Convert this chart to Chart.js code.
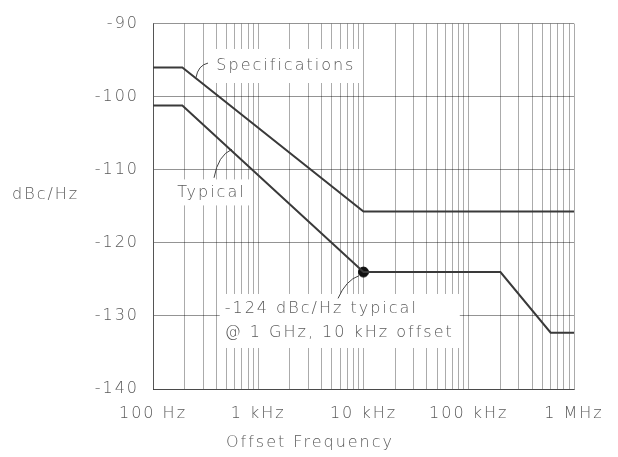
<!DOCTYPE html>
<html>
<head>
<meta charset="utf-8">
<script src="https://cdn.jsdelivr.net/npm/chart.js@4.4.1/dist/chart.umd.min.js"></script>
<style>
  body { margin: 0; background: #fff; }
</style>
</head>
<body>
<canvas id="noiseChart" width="618" height="457"></canvas>
<script>
// offset frequency (Hz) and SSB phase noise (dBc/Hz)
const specFreq = [100, 190, 10000, 1000000];
const specLevel = [-96, -96, -115.7, -115.7];

const typFreq = [100, 190, 10000, 200000, 600000, 1000000];
const typLevel = [-101.2, -101.2, -124, -124, -132.3, -132.3];

// the highlighted point
const markFreq = [10000];
const markLevel = [-124];

// log grid lines (1..9 of every decade) and the decade labels
const gridFreqs = [
  100, 200, 300, 400, 500, 600, 700, 800, 900,
  1000, 2000, 3000, 4000, 5000, 6000, 7000, 8000, 9000,
  10000, 20000, 30000, 40000, 50000, 60000, 70000, 80000, 90000,
  100000, 200000, 300000, 400000, 500000, 600000, 700000, 800000, 900000,
  1000000
];
const decadeLabels = { 100: '100 Hz', 1000: '1 kHz', 10000: '10 kHz', 100000: '100 kHz', 1000000: '1 MHz' };
const yTicks = [-140, -130, -120, -110, -100, -90];

const FONT = '"DejaVu Sans", sans-serif';
const INK = '#5a5a5a';

//text notes inside the plot, anchored in data units
const notes = [
  { lines: ['Specifications'], f: 400, v: -95.8, box: [10, 6, 17] },
  { lines: ['Typical'], f: 170, v: -113.1, box: [5, 4, 13] },
  { lines: ['-124 dBc/Hz typical', '@ 1 GHz, 10 kHz offset'], f: 480, v: -129.05, box: [5, 6, 15] }
];
// leader curves: start, control, end as [freq, dB]
const leaders = [
  [[333, -95.4], [268, -95.7], [256, -97.4]],
  [[380, -111.1], [415, -108], [563, -107.2]],
  [[5730, -127.6], [6820, -125.1], [9060, -124.5]]
];

const notesPlugin = {
  id: 'notes',
  beforeDraw(chart) {
    chart.ctx.letterSpacing = '2px';
  },
  beforeDatasetsDraw(chart) {
    const ctx = chart.ctx;
    const xs = chart.scales.x, ys = chart.scales.y;
    ctx.save();
    ctx.font = '200 16px ' + FONT;
    ctx.textBaseline = 'middle';
    ctx.textAlign = 'left';
    notes.forEach(n => {
      const x0 = xs.getPixelForValue(n.f);
      const y0 = ys.getPixelForValue(n.v);
      const lineH = 24;
      let w = 0;
      n.lines.forEach(t => { w = Math.max(w, ctx.measureText(t).width); });
      ctx.fillStyle = '#fff';
      ctx.fillRect(x0 - n.box[0], y0 - n.box[2], w + n.box[0] + n.box[1], (n.lines.length - 1) * lineH + n.box[2] * 2);
      ctx.fillStyle = INK;
      n.lines.forEach((t, i) => ctx.fillText(t, x0, y0 + i * lineH));
    });
    ctx.strokeStyle = '#444';
    ctx.lineWidth = 1;
    leaders.forEach(l => {
      const p = l.map(pt => [xs.getPixelForValue(pt[0]), ys.getPixelForValue(pt[1])]);
      ctx.beginPath();
      ctx.moveTo(p[0][0], p[0][1]);
      ctx.quadraticCurveTo(p[1][0], p[1][1], p[2][0], p[2][1]);
      ctx.stroke();
    });
    ctx.restore();
  },
  afterDraw(chart) {
    const ctx = chart.ctx;
    ctx.save();
    ctx.font = '200 16px ' + FONT;
    ctx.fillStyle = INK;
    ctx.textBaseline = 'middle';
    ctx.textAlign = 'left';
    ctx.fillText('dBc/Hz', 12, 195);
    ctx.textAlign = 'center';
    ctx.fillText('Offset Frequency', 310, 443);
    ctx.restore();
  }
};

const toPoints = (fs, vs) => fs.map((f, i) => ({ x: f, y: vs[i] }));

new Chart(document.getElementById('noiseChart'), {
  type: 'line',
  data: {
    datasets: [
      {
        label: 'Specifications',
        data: toPoints(specFreq, specLevel),
        borderColor: '#3a3a3a',
        borderWidth: 2,
        pointRadius: 0
      },
      {
        label: 'Typical',
        data: toPoints(typFreq, typLevel),
        borderColor: '#3a3a3a',
        borderWidth: 2,
        pointRadius: 0
      },
      {
        label: '-124 dBc/Hz typical',
        data: toPoints(markFreq, markLevel),
        showLine: false,
        pointRadius: 5,
        pointBackgroundColor: '#111',
        pointBorderColor: '#111'
      }
    ]
  },
  options: {
    responsive: false,
    animation: false,
    layout: { padding: { top: 19, right: 44, left: 0, bottom: 0 } },
    plugins: {
      legend: { display: false },
      tooltip: { enabled: false }
    },
    scales: {
      x: {
        type: 'logarithmic',
        min: 100,
        max: 1000000,
        afterBuildTicks: (axis) => { axis.ticks = gridFreqs.map(v => ({ value: v })); },
        afterFit: (axis) => { axis.height = 68; },
        grid: { color: 'rgba(0,0,0,0.33)', lineWidth: 1, drawTicks: false },
        border: { color: 'rgba(0,0,0,0.5)' },
        ticks: {
          autoSkip: false,
          maxRotation: 0,
          padding: 15,
          color: INK,
          font: { family: FONT, size: 16, weight: 200 },
          callback: (v) => decadeLabels[v] || ''
        }
      },
      y: {
        min: -140,
        max: -90,
        afterBuildTicks: (axis) => { axis.ticks = yTicks.map(v => ({ value: v })); },
        afterFit: (axis) => { axis.width = 153; },
        grid: { color: 'rgba(0,0,0,0.42)', lineWidth: 1, drawTicks: false },
        border: { color: 'rgba(0,0,0,0.5)' },
        ticks: {
          padding: 14,
          color: INK,
          font: { family: FONT, size: 16, weight: 200 }
        }
      }
    }
  },
  plugins: [notesPlugin]
});
</script>
</body>
</html>
